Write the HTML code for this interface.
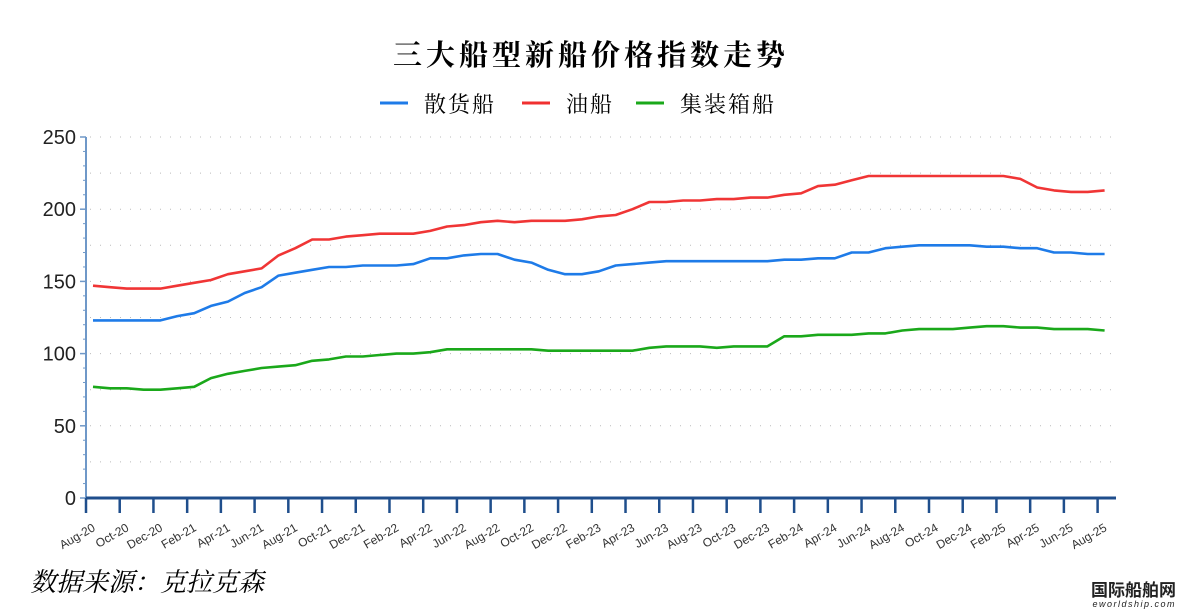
<!DOCTYPE html><html><head><meta charset="utf-8"><style>body{margin:0;background:#fff}svg{display:block}</style></head><body>
<svg id="s" width="1180" height="610" xmlns="http://www.w3.org/2000/svg" font-family="Liberation Sans, sans-serif"></svg>
<script>
const s=document.getElementById('s');let h='';
const Y=v=>498-v*1.444;
h+='<text x="591" y="65" text-anchor="middle" font-size="29" font-weight="bold" font-family="Liberation Serif, Noto Serif CJK SC, serif" letter-spacing="4">三大船型新船价格指数走势</text>';
const leg=[[380,'#1e7be8','散货船'],[522,'#f03030','油船'],[636,'#1aa81a','集装箱船']];
leg.forEach(l=>{h+=`<line x1="${l[0]}" x2="${l[0]+28}" y1="103" y2="103" stroke="${l[1]}" stroke-width="3"/><text x="${l[0]+44}" y="112" font-size="22" letter-spacing="2" font-family="Noto Serif CJK SC, serif">${l[2]}</text>`});
for(let v=25;v<=250;v+=25){h+=`<line x1="90" x2="1115" y1="${Y(v)}" y2="${Y(v)}" stroke="#bbb" stroke-width="1" stroke-dasharray="1,9"/>`;}
h+='<line x1="86" x2="86" y1="137" y2="498" stroke="#6f98c8" stroke-width="2"/>';
for(let v=0;v<=250;v+=50){h+=`<line x1="80" x2="86" y1="${Y(v)}" y2="${Y(v)}" stroke="#6f98c8" stroke-width="1.5"/><text x="76" y="${Y(v)+7}" text-anchor="end" font-size="20" fill="#222">${v}</text>`;}
for(let v=0;v<250;v+=10){if(v%50)h+=`<line x1="83" x2="86" y1="${Y(v)}" y2="${Y(v)}" stroke="#6f98c8" stroke-width="1"/>`;}
h+='<line x1="86" x2="1116" y1="498" y2="498" stroke="#1f4e8c" stroke-width="3"/>';
const mon=['Aug','Oct','Dec','Feb','Apr','Jun'];
for(let i=0;i<=30;i++){const x=86+i*33.72;const m=mon[i%6];const yr=20+Math.floor((i*2+7)/12);h+=`<line x1="${x}" x2="${x}" y1="498" y2="513" stroke="#1f4e8c" stroke-width="2.5"/><text transform="translate(${x+10},530) rotate(-30)" text-anchor="end" font-size="12" fill="#333">${m}-${yr}</text>`;}
const blue=[123,123,123,123,123,126,128,133,136,142,146,154,156,158,160,160,161,161,161,162,166,166,168,169,169,165,163,158,155,155,157,161,162,163,164,164,164,164,164,164,164,165,165,166,166,170,170,173,174,175,175,175,175,174,174,173,173,170,170,169,169];
const red=[147,146,145,145,145,147,149,151,155,157,159,168,173,179,179,181,182,183,183,183,185,188,189,191,192,191,192,192,192,193,195,196,200,205,205,206,206,207,207,208,208,210,211,216,217,220,223,223,223,223,223,223,223,223,223,221,215,213,212,212,213].concat([212]).slice(0,61);
const green=[77,76,76,75,75,76,77,83,86,88,90,91,92,95,96,98,98,99,100,100,101,103,103,103,103,103,103,102,102,102,102,102,102,104,105,105,105,104,105,105,105,112,112,113,113,113,114,114,116,117,117,117,118,119,119,118,118,117,117,117,116];
while(red.length<61)red.push(212);
function pl(a,c){return `<polyline fill="none" stroke="${c}" stroke-width="2.6" stroke-linejoin="round" points="${a.map((v,i)=>(93+i*16.86).toFixed(1)+','+Y(v).toFixed(1)).join(' ')}"/>`;}
h+=pl(red,'#f03535')+pl(blue,'#1e7be8')+pl(green,'#1aa81a');
h+='<text x="30" y="591" font-size="26" font-style="italic" font-family="Noto Serif CJK SC, serif">数据来源：克拉克森</text>';
h+='<text x="1176" y="596" text-anchor="end" font-size="17" font-weight="bold" fill="#222" font-family="Noto Sans CJK SC, sans-serif">国际船舶网</text><text x="1176" y="607" text-anchor="end" font-size="9" font-style="italic" fill="#222" letter-spacing="1.5">eworldship.com</text>';
s.innerHTML=h;
</script></body></html>
